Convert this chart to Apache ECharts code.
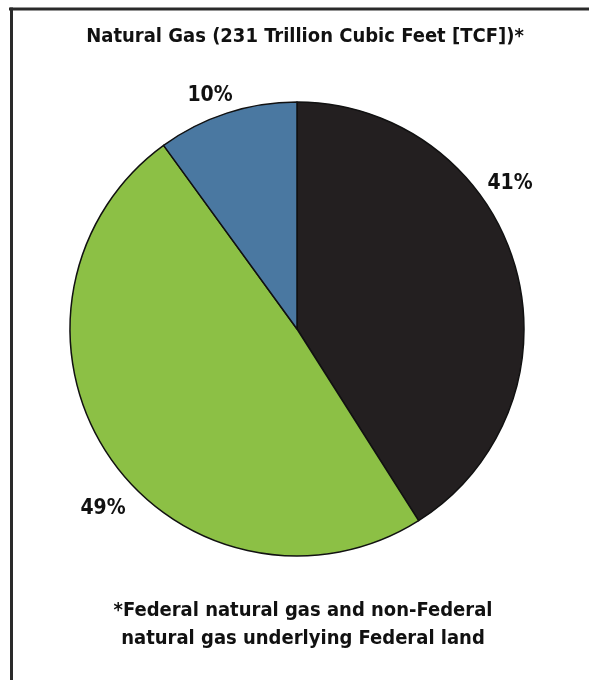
<!DOCTYPE html>
<html>
<head>
<meta charset="utf-8">
<script src="https://cdn.jsdelivr.net/npm/echarts@6/dist/echarts.min.js"></script>
<style>
html,body{margin:0;padding:0;background:#fff;}
#c{width:589px;height:680px;}
</style>
</head>
<body>
<div id="c"></div>
<script>
const categories = ['Segment A', 'Segment B', 'Segment C'];
const values = [41, 49, 10];
const labels = ['41%', '49%', '10%'];
const colors = ['#231f20', '#8cc045', '#4a78a1'];
const titleText = 'Natural Gas (231 Trillion Cubic Feet [TCF])*';
const footLines = ['*Federal natural gas and non-Federal', 'natural gas underlying Federal land'];
const labelPos = [[510, 184], [103, 509], [210, 96]];

const FONT = '"Liberation Sans Narrow", "DejaVu Sans Condensed", "Open Sans", sans-serif';
const chart = echarts.init(document.getElementById('c'), null, {renderer: 'canvas'});
chart.setOption({
  animation: false,
  backgroundColor: '#fff',
  graphic: [
    {type: 'line', shape: {x1: 9, y1: 9, x2: 600, y2: 9}, style: {stroke: '#2a2a2a', lineWidth: 3}, z: 100},
    {type: 'line', shape: {x1: 11.5, y1: 7.5, x2: 11.5, y2: 690}, style: {stroke: '#2a2a2a', lineWidth: 3}, z: 100},
    {type: 'text', style: {text: titleText, x: 305, y: 37, align: 'center', verticalAlign: 'middle', fontFamily: FONT, fontWeight: 'bold', fontSize: 20, fill: '#111'}},
    {type: 'text', style: {text: footLines.join('\n'), x: 303, y: 597, align: 'center', verticalAlign: 'top', fontFamily: FONT, fontWeight: 'bold', fontSize: 20, lineHeight: 28, fill: '#111'}}
  ],
  series: [{
    type: 'pie',
    center: [297, 329],
    radius: [0, 227],
    startAngle: 90,
    clockwise: true,
    label: {
      show: true, position: 'outside', overflow: 'none',
      formatter: p => labels[p.dataIndex],
      fontFamily: FONT, fontWeight: 'bold', fontSize: 21, color: '#111'
    },
    labelLine: {show: false},
    labelLayout: p => ({x: labelPos[p.dataIndex][0], y: labelPos[p.dataIndex][1], align: 'center', verticalAlign: 'middle', width: 80}),
    itemStyle: {borderColor: '#111', borderWidth: 1.5},
    emphasis: {disabled: true},
    data: categories.map((c, i) => ({name: c, value: values[i], itemStyle: {color: colors[i]}}))
  }]
});
</script>
</body>
</html>
